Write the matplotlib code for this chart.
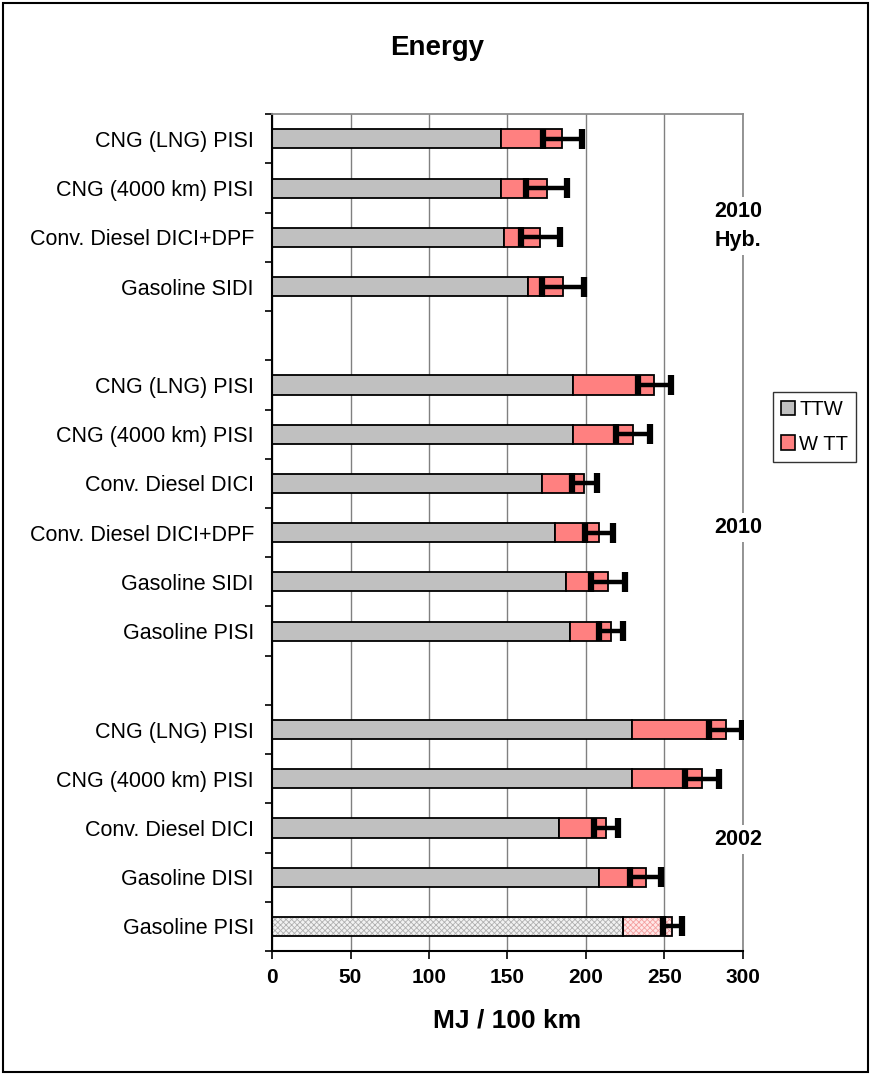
import numpy as np
import matplotlib.pyplot as plt
from matplotlib.patches import Rectangle

plt.rcParams['font.family'] = ['Liberation Sans', 'DejaVu Sans']
plt.rcParams['hatch.linewidth'] = 0.6

# --- Données (de haut en bas, None = ligne vide entre les groupes) ---
labels = ["CNG (LNG) PISI", "CNG (4000 km) PISI", "Conv. Diesel DICI+DPF", "Gasoline SIDI", None,
          "CNG (LNG) PISI", "CNG (4000 km) PISI", "Conv. Diesel DICI", "Conv. Diesel DICI+DPF",
          "Gasoline SIDI", "Gasoline PISI", None,
          "CNG (LNG) PISI", "CNG (4000 km) PISI", "Conv. Diesel DICI", "Gasoline DISI", "Gasoline PISI"]
ttw = [146, 146, 148, 163, None,
       192, 192, 172, 180, 187, 190, None,
       229, 229, 183, 208, 223.5]
total = [185, 175, 171, 185.5, None,
         243.5, 230, 199, 208.5, 214, 216, None,
         289, 274, 213, 238, 255]
err = [12.5, 13, 12.5, 13.5, None,
       10.5, 11, 8, 9, 11, 7.5, None,
       10.5, 11, 7.6, 10, 6]
hatched = [False] * 16 + [True]   # 2002 Gasoline PISI = référence hachurée

groups = ["2010\nHyb.", "2010", "2002"]
group_y = [1.77, 7.9, 14.23]

ticks_x = [0, 50, 100, 150, 200, 250, 300]

GRAY = "#C0C0C0"
RED = "#FF8080"

fig = plt.figure(figsize=(8.71, 10.75), dpi=100)
ax = fig.add_axes([0.3123, 0.1153, 0.5407, 0.7784])

n = len(labels)
h = 0.39
for i in range(n):
    if labels[i] is None:
        continue
    wtt = total[i] - ttw[i]
    if hatched[i]:
        ax.barh(i, ttw[i], height=h, color="#F2F2F2", edgecolor="#B0B0B0", hatch="xxxxxx", lw=0)
        ax.barh(i, wtt, left=ttw[i], height=h, color="#FFE8E8", edgecolor="#F4A0A0", hatch="xxxxxx", lw=0)
        ax.barh(i, ttw[i], height=h, fill=False, edgecolor="black", lw=1.3)
        ax.barh(i, wtt, left=ttw[i], height=h, fill=False, edgecolor="black", lw=1.3)
    else:
        ax.barh(i, ttw[i], height=h, color=GRAY, edgecolor="black", lw=1.3, zorder=2)
        ax.barh(i, wtt, left=ttw[i], height=h, color=RED, edgecolor="black", lw=1.3, zorder=2)
    ax.errorbar(total[i], i, xerr=err[i], fmt="none", ecolor="black", elinewidth=3.2,
                capsize=7, capthick=4.5, zorder=4)

ax.set_xlim(0, 300)
ax.set_ylim(n - 0.5, -0.5)
ax.set_xticks(ticks_x)
ax.set_xticklabels([str(t) for t in ticks_x], fontsize=15, fontweight="bold")
ax.set_yticks([i for i in range(n) if labels[i] is not None])
ax.set_yticklabels([l for l in labels if l is not None], fontsize=15.5)
ax.tick_params(axis="y", length=0, pad=13)
ax.set_yticks(np.arange(-0.5, n, 1), minor=True)
ax.tick_params(axis="y", which="minor", length=5, width=1.2, direction="out")
ax.tick_params(axis="x", length=6, width=1.2, direction="out", pad=6)

ax.grid(axis="x", color="#808080", lw=1, zorder=0)
ax.set_axisbelow(True)
for s in ["left", "bottom"]:
    ax.spines[s].set_color("black")
    ax.spines[s].set_linewidth(1.5)
for s in ["top", "right"]:
    ax.spines[s].set_color("#8C8C8C")
    ax.spines[s].set_linewidth(1.3)

ax.set_xlabel("MJ / 100 km", fontsize=19, fontweight="bold", labelpad=16)
fig.text(0.502, 0.955, "Energy", fontsize=20, fontweight="bold", ha="center", va="center")

for g, gy in zip(groups, group_y):
    ax.text(297, gy, g, fontsize=15.5, fontweight="bold", ha="center", va="center",
            linespacing=1.45, zorder=5, bbox=dict(facecolor="white", edgecolor="none", pad=3),
            clip_on=False)

# légende à droite
h1 = Rectangle((0, 0), 1, 1, facecolor=GRAY, edgecolor="black", lw=1.2)
h2 = Rectangle((0, 0), 1, 1, facecolor=RED, edgecolor="black", lw=1.2)
fig.legend([h1, h2], ["TTW", "W TT"], loc="upper left", bbox_to_anchor=(0.8875, 0.635),
           borderaxespad=0, fontsize=14.5, frameon=True, fancybox=False, edgecolor="black",
           handlelength=0.7, handleheight=0.7, handletextpad=0.2, labelspacing=0.75,
           borderpad=0.4)

# cadre autour de la figure
fig.patches.append(Rectangle((0.003, 0.003), 0.994, 0.994, transform=fig.transFigure,
                             fill=False, edgecolor="black", lw=1.5))

fig.savefig("out.png", dpi=100)
